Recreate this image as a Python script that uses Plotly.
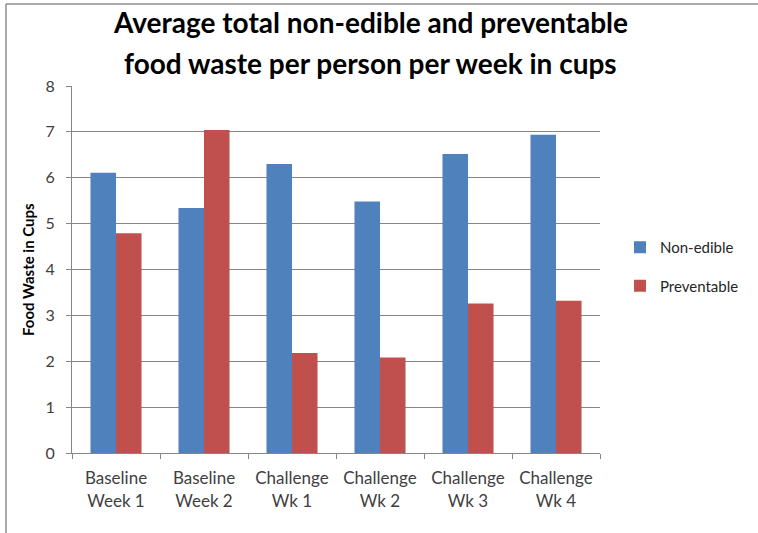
import plotly.graph_objects as go

# Weekly food-waste survey: average cups per person
weeks = ["Baseline<br>Week 1", "Baseline<br>Week 2", "Challenge<br>Wk 1",
         "Challenge<br>Wk 2", "Challenge<br>Wk 3", "Challenge<br>Wk 4"]
non_edible = [6.11, 5.34, 6.30, 5.48, 6.52, 6.94]
preventable = [4.79, 7.04, 2.18, 2.08, 3.26, 3.32]
y_ticks = [0, 1, 2, 3, 4, 5, 6, 7, 8]

BLUE = "#4F81BD"
RED = "#C0504D"
GRID = "#868686"
FONT = "Lato"

W, H = 758, 533
L, R, T, B = 72, 158, 86, 80
PW, PH = W - L - R, H - T - B


def px_x(x):
    return (x - L) / PW


def px_y(y):
    return (H - B - y) / PH


fig = go.Figure()
fig.add_trace(go.Bar(x=weeks, y=non_edible, name="Non-edible",
                     marker=dict(color=BLUE, line_width=0),
                     legendgroup="a"))
fig.add_trace(go.Bar(x=weeks, y=preventable, name="Preventable",
                     marker=dict(color=RED, line_width=0),
                     legendgroup="b"))

fig.update_layout(
    width=W, height=H,
    margin=dict(l=L, r=R, t=T, b=B),
    paper_bgcolor="white", plot_bgcolor="white",
    barmode="group", bargap=0.42, bargroupgap=0,
    font=dict(family=FONT, color="#404040"),
    showlegend=True,
    legend=dict(x=px_x(620), y=px_y(231), xanchor="left", yanchor="top",
                font=dict(size=15, color="#262626", family=FONT),
                tracegroupgap=16, itemwidth=30, bgcolor="rgba(0,0,0,0)"),
    xaxis=dict(showline=True, linecolor=GRID, linewidth=1,
               ticks="outside", ticklen=5, tickcolor=GRID,
               tickson="boundaries", showgrid=False, ticklabelstandoff=10,
               tickfont=dict(size=17, color="#404040", family=FONT)),
    yaxis=dict(range=[0, 8], tickvals=y_ticks, showline=True,
               linecolor=GRID, linewidth=1, ticks="outside", ticklen=5,
               tickcolor=GRID, showgrid=True, gridcolor=GRID, gridwidth=1,
               zeroline=False, ticklabelstandoff=8,
               tickfont=dict(size=16, color="#404040", family=FONT)),
)

# Two-line chart title
fig.add_annotation(text="<b>Average total non-edible and preventable</b>",
                   x=px_x(370), y=px_y(22), xref="paper", yref="paper",
                   showarrow=False, xanchor="center", yanchor="middle",
                   font=dict(size=28, color="#000000", family=FONT))
fig.add_annotation(text="<b>food waste per person per week in cups</b>",
                   x=px_x(370), y=px_y(63), xref="paper", yref="paper",
                   showarrow=False, xanchor="center", yanchor="middle",
                   font=dict(size=28, color="#000000", family=FONT))

# Y-axis title
fig.add_annotation(text="<b>Food Waste in Cups</b>", textangle=-90,
                   x=px_x(28), y=px_y(270), xref="paper", yref="paper",
                   showarrow=False, xanchor="center", yanchor="middle",
                   font=dict(size=15, color="#000000", family=FONT))

# Chart frame edges (top and left)
fig.add_shape(type="line", xref="paper", yref="paper",
              x0=px_x(6), x1=px_x(W + 2), y0=px_y(4), y1=px_y(4),
              line=dict(color="#8C8C8C", width=1.5))
fig.add_shape(type="line", xref="paper", yref="paper",
              x0=px_x(6), x1=px_x(6), y0=px_y(4), y1=px_y(H + 2),
              line=dict(color="#8C8C8C", width=1.5))

fig.write_html("out.html")
